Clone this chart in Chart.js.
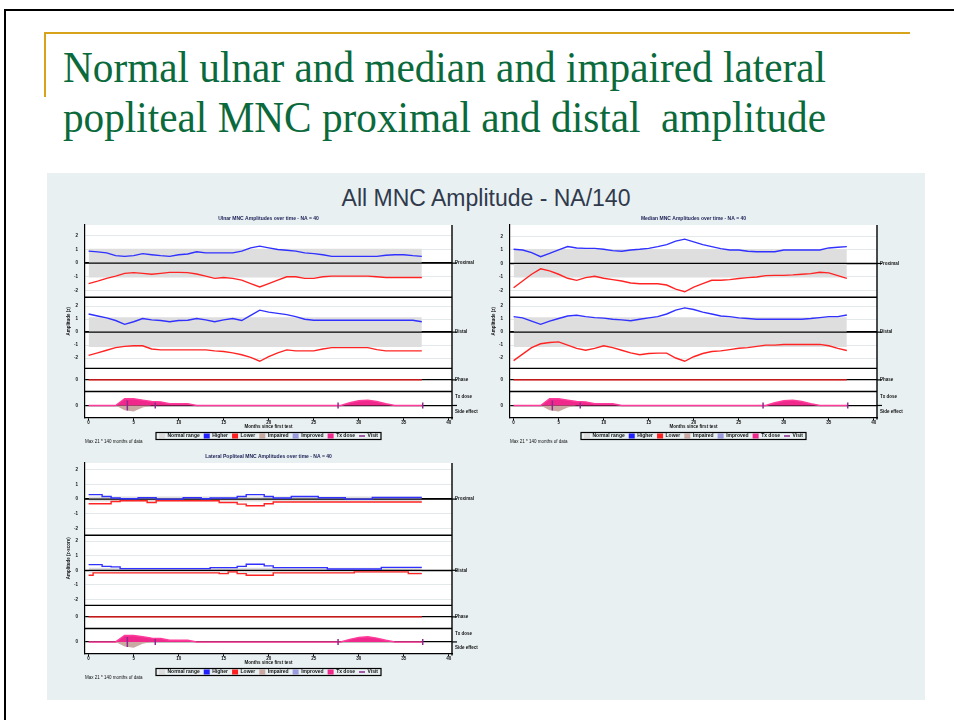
<!DOCTYPE html>
<html>
<head>
<meta charset="utf-8">
<title>All MNC Amplitude - NA/140</title>
<script src="https://cdn.jsdelivr.net/npm/chart.js@4.4.1/dist/chart.umd.min.js"></script>
<style>
  body { margin: 0; width: 954px; height: 720px; background: #fff; position: relative; overflow: hidden; }
  .rule { position: absolute; }
  #heading { position: absolute; left: 63px; top: 43px; font-family: "Liberation Serif", serif; font-size: 44px; line-height: 50px; color: #0b6a3b; }
  .tline { display: inline-block; white-space: nowrap; transform-origin: 0 0; }
  #plotBg { position: absolute; left: 47px; top: 173px; width: 878px; height: 527px; background: #e8f0f2; }
  #allTitle { position: absolute; left: 47px; top: 187px; width: 878px; text-align: center; font-family: "Liberation Sans", Arial, sans-serif; font-size: 23px; line-height: 23px; color: #303a4c; }
  .panel { position: absolute; }
</style>
</head>
<body>
<div class="rule" style="left:4px;top:9px;width:950px;height:2px;background:#000"></div>
<div class="rule" style="left:4px;top:9px;width:2px;height:711px;background:#000"></div>
<div class="rule" style="left:45px;top:32px;width:865px;height:2px;background:#d8a31a"></div>
<div class="rule" style="left:44px;top:32px;width:2px;height:65px;background:#d8a31a"></div>
<div id="heading"><span class="tline">Normal ulnar and median and impaired lateral</span><br><span class="tline">popliteal MNC proximal and distal&nbsp; amplitude</span></div>
<div id="plotBg"></div>
<div id="allTitle">All MNC Amplitude - NA/140</div>
<div class="panel" style="left:50px;top:208px;width:440px;height:236px"><canvas id="ulnar"></canvas></div>
<div class="panel" style="left:475px;top:208px;width:440px;height:236px"><canvas id="median"></canvas></div>
<div class="panel" style="left:50px;top:446px;width:440px;height:234px"><canvas id="lateral"></canvas></div>

<script>
    // x positions (months since first test) and axis ticks
    const months = [0,1,2,3,4,5,6,7,8,9,10,11,12,13,14,15,16,17,18,19,20,21,22,23,24,25,26,27,28,29,30,31,32,33,34,35,36,37];
    const xTicks = [0,5,10,15,20,25,30,35,40];
    const ampTicks = [-2,-1,0,1,2];
    const zeroTick = [0];

    // normal range bands
    const proxRange = [-1.05, 1.05];
    const distRange = [-1.15, 1.15];
    const lateralRange = [-0.17, 0.17];

    // ulnar
    const ulnarProxHigh = [0.88,0.83,0.75,0.55,0.5,0.55,0.7,0.62,0.55,0.5,0.62,0.67,0.83,0.75,0.75,0.75,0.75,0.88,1.12,1.25,1.12,1.0,0.95,0.88,0.75,0.7,0.62,0.5,0.5,0.5,0.5,0.5,0.5,0.58,0.62,0.62,0.55,0.5];
    const ulnarProxLow = [-1.5,-1.32,-1.12,-0.95,-0.75,-0.7,-0.75,-0.82,-0.75,-0.68,-0.68,-0.7,-0.8,-0.95,-1.12,-1.05,-1.12,-1.25,-1.5,-1.75,-1.5,-1.25,-1.0,-1.0,-1.12,-1.12,-1.0,-0.95,-0.95,-0.95,-0.95,-0.95,-1.0,-1.05,-1.05,-1.05,-1.05,-1.05];
    const ulnarDistHigh = [1.4,1.25,1.1,0.9,0.6,0.8,1.05,0.95,0.9,0.8,0.9,0.92,1.05,0.95,0.8,0.95,1.05,0.9,1.3,1.7,1.55,1.45,1.35,1.2,1.0,0.92,0.92,0.92,0.92,0.92,0.92,0.92,0.92,0.92,0.92,0.92,0.92,0.8];
    const ulnarDistLow = [-1.8,-1.6,-1.4,-1.2,-1.1,-1.05,-1.05,-1.3,-1.37,-1.37,-1.37,-1.37,-1.37,-1.37,-1.45,-1.5,-1.6,-1.75,-1.95,-2.25,-1.9,-1.6,-1.37,-1.45,-1.45,-1.45,-1.3,-1.2,-1.2,-1.2,-1.2,-1.2,-1.35,-1.45,-1.45,-1.45,-1.45,-1.45];

    // median
    const medianProxHigh = [1.05,1.0,0.8,0.5,0.75,1.0,1.25,1.15,1.12,1.12,1.05,0.95,0.9,1.0,1.05,1.12,1.25,1.4,1.65,1.8,1.6,1.4,1.25,1.1,1.0,1.0,0.9,0.87,0.87,0.87,1.0,1.0,1.0,1.0,1.0,1.15,1.2,1.25];
    const medianProxLow = [-1.8,-1.3,-0.8,-0.4,-0.55,-0.8,-1.1,-1.25,-1.05,-0.95,-1.1,-1.2,-1.3,-1.45,-1.5,-1.5,-1.5,-1.6,-1.9,-2.1,-1.75,-1.5,-1.25,-1.25,-1.2,-1.12,-1.05,-1.0,-0.9,-0.88,-0.88,-0.85,-0.8,-0.75,-0.65,-0.7,-0.9,-1.1];
    const medianDistHigh = [1.2,1.1,0.85,0.6,0.85,1.05,1.25,1.3,1.2,1.12,1.08,1.0,0.95,0.88,1.0,1.1,1.2,1.4,1.7,1.87,1.75,1.55,1.4,1.25,1.2,1.1,1.05,1.0,1.0,1.0,1.0,1.0,1.0,1.05,1.12,1.2,1.2,1.32];
    const medianDistLow = [-2.2,-1.7,-1.2,-0.9,-0.8,-0.75,-1.0,-1.25,-1.4,-1.25,-1.05,-1.2,-1.4,-1.6,-1.75,-1.65,-1.62,-1.62,-2.0,-2.25,-1.9,-1.65,-1.5,-1.45,-1.35,-1.25,-1.2,-1.1,-1.0,-1.0,-0.95,-0.95,-0.95,-0.95,-0.95,-1.05,-1.25,-1.42];

    // lateral popliteal
    const lateralProxHigh = [0.3,0.3,0.18,0.07,0.02,0.02,0.09,0.09,0.0,0.0,0.0,0.09,0.09,0.02,0.07,0.07,0.07,0.18,0.3,0.3,0.18,0.07,0.07,0.18,0.18,0.18,0.09,0.09,0.09,0.0,0.0,0.0,0.11,0.11,0.11,0.11,0.11,0.11];
    const lateralProxLow = [-0.32,-0.32,-0.32,-0.16,-0.11,-0.11,-0.11,-0.23,-0.11,-0.11,-0.11,-0.11,-0.11,-0.11,-0.11,-0.23,-0.23,-0.34,-0.45,-0.45,-0.32,-0.2,-0.2,-0.2,-0.2,-0.2,-0.2,-0.2,-0.2,-0.2,-0.2,-0.2,-0.2,-0.2,-0.2,-0.2,-0.2,-0.2];
    const lateralDistHigh = [0.39,0.39,0.27,0.23,0.11,0.11,0.11,0.11,0.11,0.11,0.11,0.11,0.11,0.11,0.18,0.18,0.18,0.27,0.41,0.41,0.3,0.18,0.18,0.18,0.18,0.18,0.18,0.09,0.09,0.09,0.09,0.09,0.09,0.2,0.2,0.2,0.2,0.2];
    const lateralDistLow = [-0.34,-0.18,-0.18,-0.18,-0.18,-0.18,-0.18,-0.18,-0.18,-0.18,-0.18,-0.18,-0.18,-0.18,-0.18,-0.23,-0.11,-0.23,-0.34,-0.34,-0.34,-0.18,-0.18,-0.18,-0.18,-0.18,-0.18,-0.18,-0.18,-0.18,-0.11,-0.11,-0.11,-0.11,-0.11,-0.11,-0.23,-0.23];

    // phase line and treatment strip (same for all nerves)
    const phase = [0,0,0,0,0,0,0,0,0,0,0,0,0,0,0,0,0,0,0,0,0,0,0,0,0,0,0,0,0,0,0,0,0,0,0,0,0,0];
    const txDose = [0,0,0,0,0.5,0.5,0.4,0.3,0.27,0.13,0.13,0.13,0,0,0,0,0,0,0,0,0,0,0,0,0,0,0,0,0,0.2,0.35,0.4,0.3,0.13,0,0,0,0];
    const sideMonths = [3,4,5,6,7];
    const sideEffect = [0,-0.35,-0.45,-0.15,0];
    const visitMonths = [4.3,7.4,27.7,37.1];
    const visitLevel = [0,0,0,0];

    const legendNames = ['Normal range', 'Higher', 'Lower', 'Impaired', 'Improved', 'Tx dose', 'Visit'];
    const legendColors = ['#dcdcdc', '#1f1fff', '#ff1f1f', '#c9a9a2', '#9a9ade', '#f0288c', '#8e2a8e'];

    Chart.defaults.font.family = '"Liberation Sans", Arial, sans-serif';
    Chart.defaults.font.size = 4.5;
    Chart.defaults.font.weight = 'bold';
    Chart.defaults.font.lineHeight = 1;
    Chart.defaults.color = '#111';
    Chart.defaults.animation = false;

    const pts = (xs, ys) => xs.map((x, i) => ({x: x, y: ys[i]}));
    const bandPts = v => pts([months[0], months[months.length - 1]], [v, v]);

    const panelDecor = {
        id: 'panelDecor',
        beforeDraw(chart) {
            const {ctx, chartArea: a} = chart;
            ctx.save();
            ctx.fillStyle = '#fff';
            ctx.fillRect(a.left, a.top, a.right - a.left, a.bottom - a.top);
            ctx.restore();
        },
        beforeDatasetsDraw(chart) {
            // zero lines stay visible over the grey normal band
            const {ctx, chartArea: a} = chart;
            ctx.save();
            ctx.strokeStyle = '#000';
            ctx.lineWidth = 1.3;
            ['yProx', 'yDist'].forEach(id => {
                const y = chart.scales[id].getPixelForValue(0);
                ctx.beginPath(); ctx.moveTo(a.left, y); ctx.lineTo(a.right, y); ctx.stroke();
            });
            ctx.restore();
        },
        afterDraw(chart, args, opts) {
            const {ctx, chartArea: a} = chart;
            ctx.save();
            ctx.strokeStyle = '#000';
            ctx.lineWidth = 1.4;
            // separators between the stacked strips
            ['yProx', 'yDist', 'yPhase'].forEach(id => {
                const y = chart.scales[id].bottom;
                ctx.beginPath(); ctx.moveTo(a.left, y); ctx.lineTo(a.right, y); ctx.stroke();
            });
            // right frame
            ctx.beginPath(); ctx.moveTo(a.right, a.top); ctx.lineTo(a.right, a.bottom + 2); ctx.stroke();

            // labels on the right
            ctx.lineWidth = 1.2;
            ctx.fillStyle = '#111';
            ctx.font = 'bold 4.5px "Liberation Sans", Arial, sans-serif';
            ctx.textBaseline = 'middle';
            ['yProx', 'yDist', 'yPhase', 'yEvent'].forEach((id, i) => {
                const s = chart.scales[id];
                const y = s.getPixelForValue(0);
                ctx.beginPath(); ctx.moveTo(a.right, y); ctx.lineTo(a.right + 5, y); ctx.stroke();
                if (i < 3) ctx.fillText(opts.sideLabels[i], a.right + 3, y);
            });
            const ev = chart.scales.yEvent;
            ctx.fillText(opts.sideLabels[3], a.right + 3, ev.top + 5);
            ctx.fillText(opts.sideLabels[4], a.right + 3, ev.bottom - 6);

            // y axis title across the strips
            ctx.translate(a.left - 16, (a.top + a.bottom) / 2);
            ctx.rotate(-Math.PI / 2);
            ctx.textAlign = 'center';
            ctx.fillText(opts.yTitle, 0, 0);
            ctx.restore();

            // frame round the legend
            const hb = chart.legend.legendHitBoxes;
            if (hb.length) {
                const x0 = Math.min(...hb.map(b => b.left)) - 3;
                const x1 = Math.max(...hb.map(b => b.left + b.width)) + 3;
                const y0 = Math.min(...hb.map(b => b.top)) - 1;
                const y1 = Math.max(...hb.map(b => b.top + b.height)) + 1;
                ctx.save();
                ctx.strokeStyle = '#000';
                ctx.lineWidth = 1.2;
                ctx.strokeRect(x0, y0, x1 - x0, y1 - y0);
                ctx.restore();
            }
        }
    };

    function yScale(lim, ticks, weight) {
        return {
            type: 'linear', axis: 'y', position: 'left', stack: 'strips', stackWeight: weight,
            min: lim[0], max: lim[1],
            afterBuildTicks: s => { s.ticks = ticks.map(v => ({value: v})); },
            afterFit: s => { s.width = 35; },
            grid: {
                color: c => c.tick.value === 0 ? '#000' : '#e3e9eb',
                lineWidth: c => c.tick.value === 0 ? 1.3 : 1,
                drawTicks: false
            },
            border: {color: '#000', width: 1.2},
            ticks: {padding: 7, autoSkip: false}
        };
    }

    function line(data, color, axis, stepped) {
        return {data: data, yAxisID: axis, borderColor: color, borderWidth: 1.4, pointRadius: 0, fill: false, tension: 0, stepped: stepped, order: 1};
    }

    function makePanel(id, p) {
        const datasets = [
            {data: bandPts(p.range1[1]), yAxisID: 'yProx', borderWidth: 0, pointRadius: 0, backgroundColor: '#dedede', fill: '+1', order: 5},
            {data: bandPts(p.range1[0]), yAxisID: 'yProx', borderWidth: 0, pointRadius: 0, fill: false, order: 5},
            {data: bandPts(p.range2[1]), yAxisID: 'yDist', borderWidth: 0, pointRadius: 0, backgroundColor: '#dedede', fill: '+1', order: 5},
            {data: bandPts(p.range2[0]), yAxisID: 'yDist', borderWidth: 0, pointRadius: 0, fill: false, order: 5},
            line(pts(months, p.proxHigh), '#3030ff', 'yProx', p.stepped),
            line(pts(months, p.proxLow), '#ff2424', 'yProx', p.stepped),
            line(pts(months, p.distHigh), '#3030ff', 'yDist', p.stepped),
            line(pts(months, p.distLow), '#ff2424', 'yDist', p.stepped),
            line(pts(months, phase), '#ff2424', 'yPhase', false),
            {data: pts(sideMonths, sideEffect), yAxisID: 'yEvent', borderWidth: 0, pointRadius: 0, backgroundColor: '#c9a9a2', fill: 'origin', order: 3},
            {data: pts(months, txDose), yAxisID: 'yEvent', borderColor: '#ff3c9c', borderWidth: 1.4, pointRadius: 0, backgroundColor: '#f0288c', fill: 'origin', order: 2},
            {type: 'scatter', data: pts(visitMonths, visitLevel), yAxisID: 'yEvent', pointStyle: 'line', rotation: 90, pointRadius: [5, 3, 3, 3], borderColor: '#8e2a8e', borderWidth: 1.5, order: 0}
        ];

        return new Chart(document.getElementById(id), {
            type: 'line',
            data: {datasets: datasets},
            options: {
                responsive: true,
                maintainAspectRatio: false,
                layout: {padding: {top: 6, right: 38, bottom: 0, left: 0}},
                scales: {
                    x: {
                        type: 'linear', min: -0.4, max: 40.35,
                        afterBuildTicks: s => { s.ticks = xTicks.map(v => ({value: v})); },
                        grid: {drawOnChartArea: false, color: '#000', tickLength: 3},
                        border: {color: '#000', width: 1.3},
                        ticks: {padding: 0, maxRotation: 0, autoSkip: false},
                        title: {display: true, text: 'Months since first test', padding: {top: 0, bottom: 0}}
                    },
                    yEvent: yScale(p.limEvent, zeroTick, p.weights[3]),
                    yPhase: yScale([-1, 1], zeroTick, p.weights[2]),
                    yDist: yScale(p.lim2, ampTicks, p.weights[1]),
                    yProx: yScale(p.lim1, ampTicks, p.weights[0])
                },
                plugins: {
                    filler: {drawTime: 'beforeDatasetsDraw'},
                    title: {display: true, text: p.title, fullSize: false, color: '#1c1f55', font: {size: 5, weight: 'bold', lineHeight: 1.2}, padding: {top: 2, bottom: 3}},
                    subtitle: {display: true, text: 'Max 21 * 140 months of data', position: 'bottom', align: 'start', fullSize: false, font: {size: 4.5}, padding: {top: 0, bottom: 0}},
                    legend: {
                        position: 'bottom', fullSize: false, maxHeight: 10,
                        labels: {
                            usePointStyle: true, pointStyleWidth: 6, boxHeight: 5, padding: 4,
                            font: {size: 5},
                            generateLabels: () => legendNames.map((text, i) => ({
                                text: text, fillStyle: legendColors[i], strokeStyle: legendColors[i],
                                lineWidth: i === 6 ? 1.5 : 0, pointStyle: i === 6 ? 'line' : 'rect',
                                hidden: false, fontColor: '#111'
                            }))
                        }
                    },
                    tooltip: {enabled: false},
                    panelDecor: {sideLabels: ['Proximal', 'Distal', 'Phase', 'Tx dose', 'Side effect'], yTitle: p.yTitle}
                }
            },
            plugins: [panelDecor]
        });
    }

    makePanel('ulnar', {
        title: 'Ulnar MNC Amplitudes over time - NA = 40',
        proxHigh: ulnarProxHigh, proxLow: ulnarProxLow, distHigh: ulnarDistHigh, distLow: ulnarDistLow,
        range1: proxRange, range2: distRange, lim1: [-2.5, 2.8], lim2: [-2.8, 2.7], limEvent: [-0.9, 1.05],
        weights: [72, 71, 23, 26], stepped: false, yTitle: 'Amplitude (z)'
    });
    makePanel('median', {
        title: 'Median MNC Amplitudes over time - NA = 40',
        proxHigh: medianProxHigh, proxLow: medianProxLow, distHigh: medianDistHigh, distLow: medianDistLow,
        range1: proxRange, range2: distRange, lim1: [-2.5, 2.85], lim2: [-2.8, 2.7], limEvent: [-0.9, 1.05],
        weights: [72, 71, 23, 26], stepped: false, yTitle: 'Amplitude (z)'
    });
    makePanel('lateral', {
        title: 'Lateral Popliteal MNC Amplitudes over time - NA = 40',
        proxHigh: lateralProxHigh, proxLow: lateralProxLow, distHigh: lateralDistHigh, distLow: lateralDistLow,
        range1: lateralRange, range2: lateralRange, lim1: [-2.45, 2.45], lim2: [-2.4, 2.4], limEvent: [-0.9, 1.05],
        weights: [72, 70, 23, 25], stepped: 'middle', yTitle: 'Amplitude (z-score)'
    });

    // the slide title is a condensed serif: squeeze each line to its width
    document.querySelectorAll('.tline').forEach(el => {
        el.style.transform = 'scaleX(' + (763 / el.getBoundingClientRect().width) + ')';
    });
</script>
</body>
</html>
